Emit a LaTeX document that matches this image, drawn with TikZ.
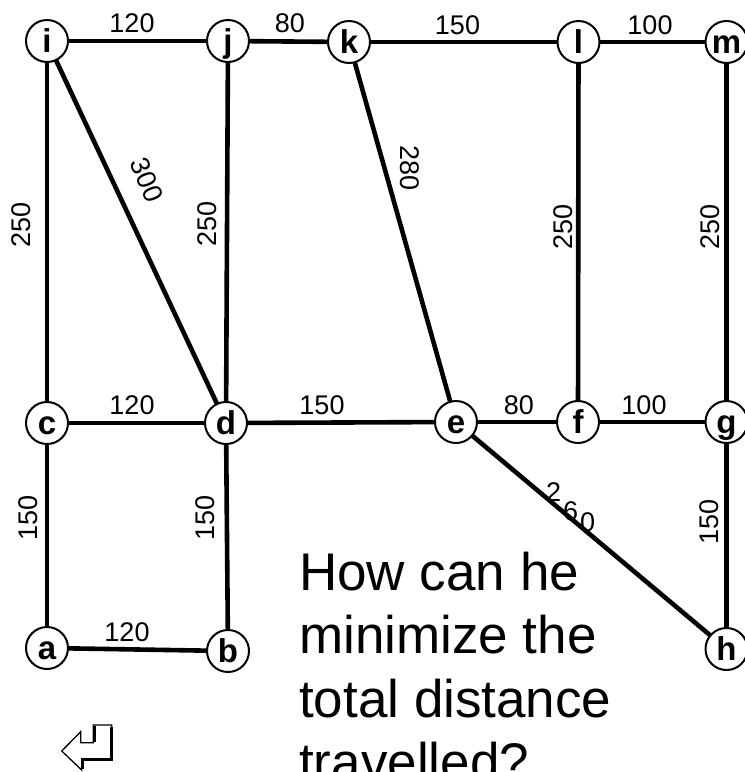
\documentclass[tikz,border=0pt]{standalone}
\usepackage{fontspec}
\setmainfont{Liberation Sans}
\begin{document}
\begin{tikzpicture}[x=1pt,y=-1pt,
  vtx/.style={circle,draw,line width=2pt,minimum size=42pt,inner sep=0pt,outer sep=0pt,
    text height=26pt,text depth=3pt,font=\fontsize{33}{33}\selectfont\bfseries},
  edge/.style={line width=4.6pt},
  lbl/.style={inner sep=0pt,font=\fontsize{27}{27}\selectfont},
  qline/.style={anchor=base west,inner sep=0pt,font=\fontsize{53}{63}\selectfont}]
\clip (0,0) rectangle (745,772);
\useasboundingbox (0,0) rectangle (745,772);
% vertices
\node[vtx] (i) at (47,41) {i};
\node[vtx] (j) at (228,41) {j};
\node[vtx] (k) at (349,42) {k};
\node[vtx] (l) at (578.5,42) {l};
\node[vtx] (m) at (726.5,42) {m};
\node[vtx] (c) at (47,423) {c};
\node[vtx] (d) at (226,423) {d};
\node[vtx] (e) at (456,422) {e};
\node[vtx] (f) at (578,422) {f};
\node[vtx] (g) at (726.5,422) {g};
\node[vtx] (a) at (47,648) {a};
\node[vtx] (b) at (228,651) {b};
\node[vtx] (h) at (726.5,649) {h};
% edges
\draw[edge] (i) -- (j);
\draw[edge] (j) -- (k);
\draw[edge] (k) -- (l);
\draw[edge] (l) -- (m);
\draw[edge] (i) -- (c);
\draw[edge] (i) -- (d);
\draw[edge] (j) -- (d);
\draw[edge] (k) -- (e);
\draw[edge] (l) -- (f);
\draw[edge] (m) -- (g);
\draw[edge] (c) -- (d);
\draw[edge] (d) -- (e);
\draw[edge] (e) -- (f);
\draw[edge] (f) -- (g);
\draw[edge] (c) -- (a);
\draw[edge] (d) -- (b);
\draw[edge] (a) -- (b);
\draw[edge] (e) -- (h);
\draw[edge] (g) -- (h);
% edge labels
\node[lbl] (lij) at (132,23) {120};
\node[lbl] (ljk) at (290,23) {80};
\node[lbl] (lkl) at (457.5,25) {150};
\node[lbl] (llm) at (650,25) {100};
\node[lbl,rotate=90] (lic) at (21,225) {250};
\node[lbl,rotate=-68] (lid) at (147,180) {300};
\node[lbl,rotate=90] (ljd) at (207.5,224) {250};
\node[lbl,rotate=-90] (lke) at (410,168) {280};
\node[lbl,rotate=90] (llf) at (563,227) {250};
\node[lbl,rotate=90] (lmg) at (710,227) {250};
\node[lbl] (lcd) at (132,405) {120};
\node[lbl] (lde) at (322,405) {150};
\node[lbl] (lef) at (519,405) {80};
\node[lbl] (lfg) at (644,405) {100};
\node[lbl,rotate=90] (lca) at (28,518) {150};
\node[lbl,rotate=90] (ldb) at (205,518) {150};
\node[lbl,rotate=90] (lgh) at (709,522) {150};
\node[lbl] (lab) at (127,632) {120};
\node[lbl,anchor=base west] (leh) at (546,501) {2\kern2pt\raisebox{-19pt}{6}\kern2pt\raisebox{-30pt}{0}};
% question text
\node[qline] (q1) at (299,590) {How can he};
\node[qline] (q2) at (299,653) {minimize the};
\node[qline] (q3) at (299,717) {total distance};
\node[qline] (q4) at (299,780) {travelled?};
% return symbol
\draw[line width=1.3pt,line join=miter] (61.7,751) -- (80.7,731.7) -- (80.7,742.7) -- (93.3,742.7)
  -- (93.3,725) -- (111.7,725) -- (111.7,760) -- (81.7,760) -- (81.7,770) -- cycle;
\draw[line width=3pt,line join=miter] (111,727) -- (111,759.5) -- (82.5,759.5) -- (82.5,769);
\draw[line width=3pt] (94,726) -- (94,742);
\end{tikzpicture}
\end{document}
